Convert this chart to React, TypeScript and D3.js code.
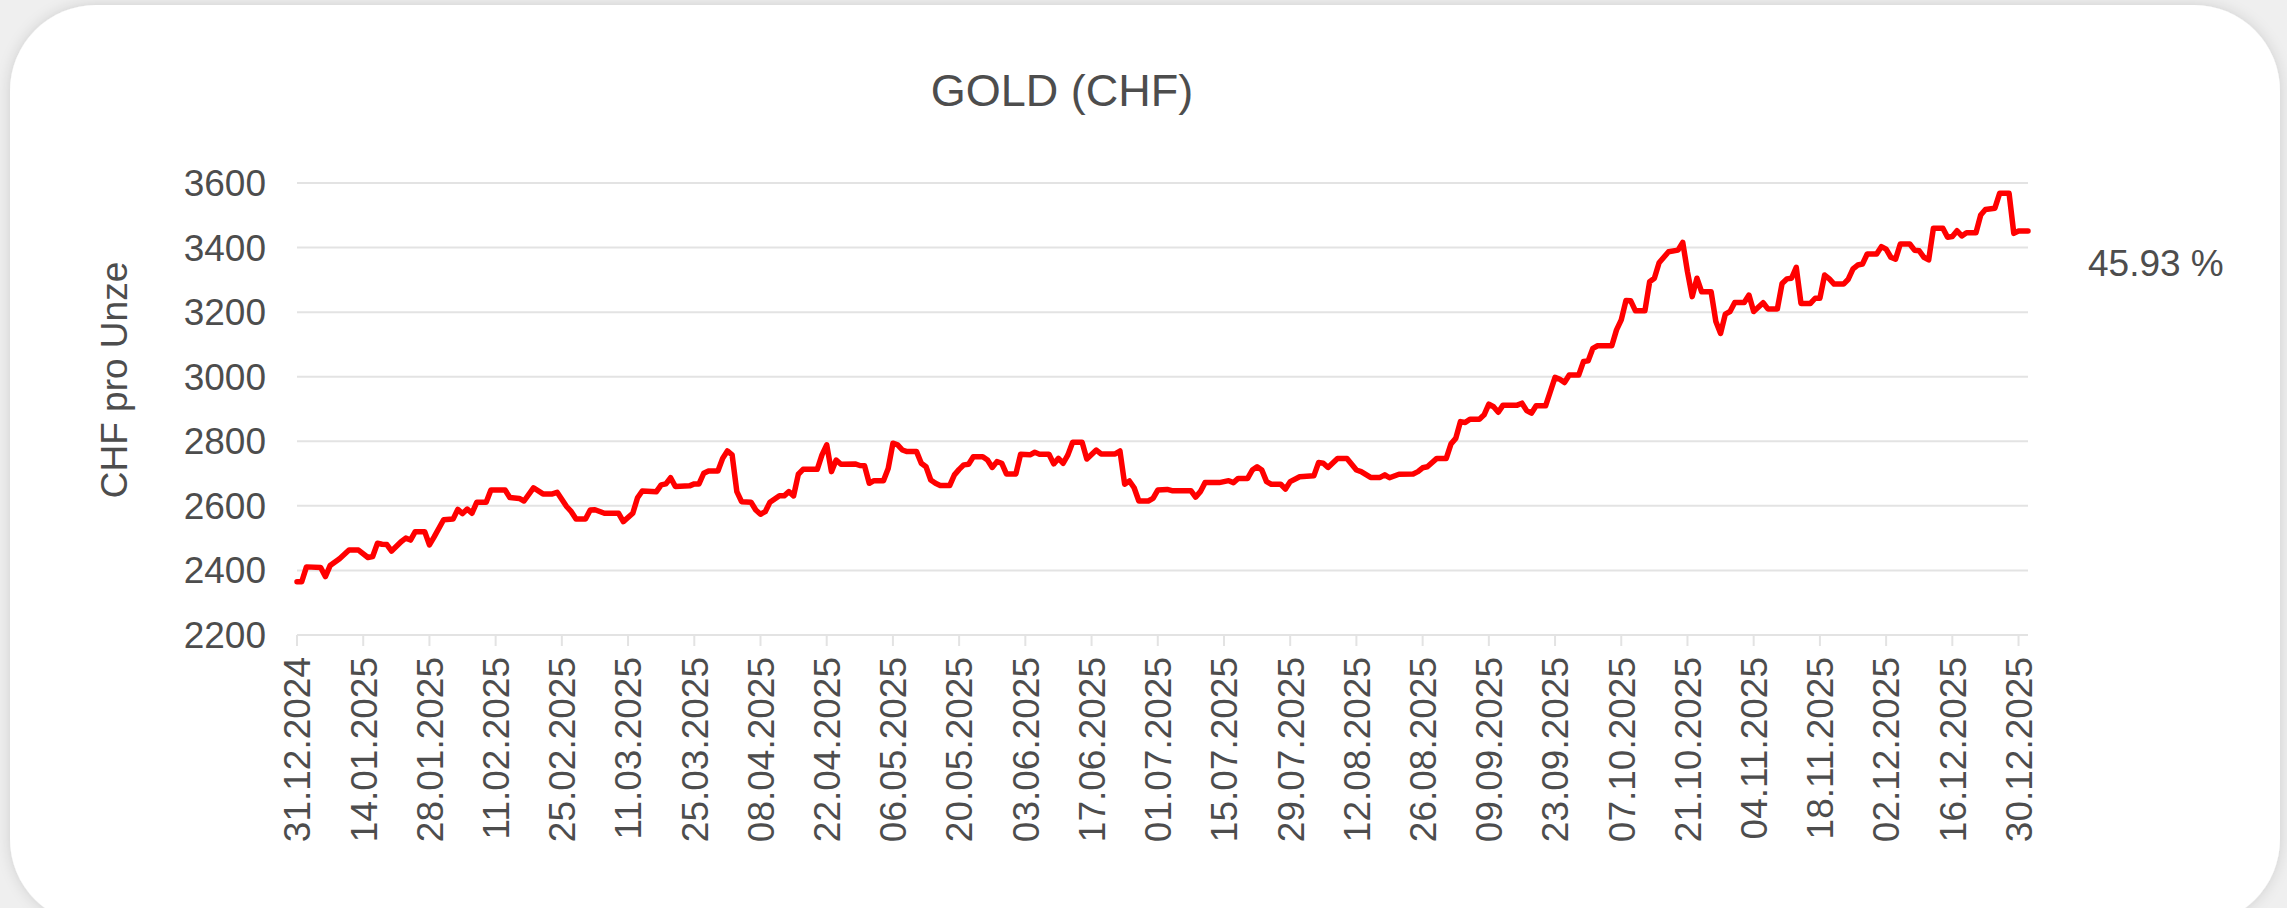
import React from "react";
import * as d3 from "d3";

const title = "GOLD (CHF)";
const yAxisTitle = "CHF pro Unze";
const changeLabel = "45.93 %";

const yTicks = [2200, 2400, 2600, 2800, 3000, 3200, 3400, 3600];

const tickLabels = [
  "31.12.2024", "14.01.2025", "28.01.2025", "11.02.2025", "25.02.2025", "11.03.2025",
  "25.03.2025", "08.04.2025", "22.04.2025", "06.05.2025", "20.05.2025", "03.06.2025",
  "17.06.2025", "01.07.2025", "15.07.2025", "29.07.2025", "12.08.2025", "26.08.2025",
  "09.09.2025", "23.09.2025", "07.10.2025", "21.10.2025", "04.11.2025", "18.11.2025",
  "02.12.2025", "16.12.2025", "30.12.2025",
];

// turning points of the line (date -> CHF per ounce)
const dates = [
  "31.12.2024",
  "01.01.2025", "02.01.2025", "05.01.2025", "06.01.2025", "07.01.2025", "09.01.2025", "11.01.2025", "13.01.2025",
  "15.01.2025", "16.01.2025", "17.01.2025", "18.01.2025", "19.01.2025", "20.01.2025", "22.01.2025", "23.01.2025",
  "24.01.2025", "25.01.2025", "27.01.2025", "28.01.2025", "29.01.2025", "31.01.2025",
  "02.02.2025", "03.02.2025", "04.02.2025", "05.02.2025", "06.02.2025", "07.02.2025", "09.02.2025", "10.02.2025",
  "13.02.2025", "14.02.2025", "16.02.2025", "17.02.2025", "19.02.2025", "21.02.2025", "23.02.2025", "24.02.2025",
  "26.02.2025", "27.02.2025", "28.02.2025",
  "02.03.2025", "03.03.2025", "04.03.2025", "06.03.2025", "09.03.2025", "10.03.2025", "12.03.2025", "13.03.2025",
  "14.03.2025", "17.03.2025", "18.03.2025", "19.03.2025", "20.03.2025", "21.03.2025", "24.03.2025", "25.03.2025",
  "26.03.2025", "27.03.2025", "28.03.2025", "30.03.2025", "31.03.2025",
  "01.04.2025", "02.04.2025", "03.04.2025", "04.04.2025", "06.04.2025", "07.04.2025", "08.04.2025", "09.04.2025",
  "10.04.2025", "12.04.2025", "13.04.2025", "14.04.2025", "15.04.2025", "16.04.2025", "17.04.2025", "20.04.2025",
  "21.04.2025", "22.04.2025", "23.04.2025", "24.04.2025", "25.04.2025", "28.04.2025", "29.04.2025", "30.04.2025",
  "01.05.2025", "02.05.2025", "04.05.2025", "05.05.2025", "06.05.2025", "07.05.2025", "08.05.2025", "09.05.2025",
  "11.05.2025", "12.05.2025", "13.05.2025", "14.05.2025", "15.05.2025", "16.05.2025", "18.05.2025", "19.05.2025",
  "20.05.2025", "21.05.2025", "22.05.2025", "23.05.2025", "25.05.2025", "26.05.2025", "27.05.2025", "28.05.2025",
  "29.05.2025", "30.05.2025",
  "01.06.2025", "02.06.2025", "04.06.2025", "05.06.2025", "06.06.2025", "08.06.2025", "09.06.2025", "10.06.2025",
  "11.06.2025", "12.06.2025", "13.06.2025", "15.06.2025", "16.06.2025", "18.06.2025", "19.06.2025", "22.06.2025",
  "23.06.2025", "24.06.2025", "25.06.2025", "26.06.2025", "27.06.2025", "29.06.2025", "30.06.2025",
  "01.07.2025", "03.07.2025", "04.07.2025", "08.07.2025", "09.07.2025", "10.07.2025", "11.07.2025", "14.07.2025",
  "16.07.2025", "17.07.2025", "18.07.2025", "20.07.2025", "21.07.2025", "22.07.2025", "23.07.2025", "24.07.2025",
  "25.07.2025", "27.07.2025", "28.07.2025", "29.07.2025", "31.07.2025",
  "03.08.2025", "04.08.2025", "05.08.2025", "06.08.2025", "08.08.2025", "10.08.2025", "12.08.2025", "13.08.2025",
  "15.08.2025", "17.08.2025", "18.08.2025", "19.08.2025", "21.08.2025", "24.08.2025", "25.08.2025", "26.08.2025",
  "27.08.2025", "29.08.2025", "31.08.2025",
  "01.09.2025", "02.09.2025", "03.09.2025", "04.09.2025", "05.09.2025", "07.09.2025", "08.09.2025", "09.09.2025",
  "10.09.2025", "11.09.2025", "12.09.2025", "15.09.2025", "16.09.2025", "17.09.2025", "18.09.2025", "19.09.2025",
  "21.09.2025", "22.09.2025", "23.09.2025", "24.09.2025", "25.09.2025", "26.09.2025", "28.09.2025", "29.09.2025",
  "30.09.2025",
  "01.10.2025", "02.10.2025", "05.10.2025", "06.10.2025", "07.10.2025", "08.10.2025", "09.10.2025", "10.10.2025",
  "12.10.2025", "13.10.2025", "14.10.2025", "15.10.2025", "17.10.2025", "19.10.2025", "20.10.2025", "21.10.2025",
  "22.10.2025", "23.10.2025", "24.10.2025", "26.10.2025", "27.10.2025", "28.10.2025", "29.10.2025", "30.10.2025",
  "31.10.2025",
  "02.11.2025", "03.11.2025", "04.11.2025", "06.11.2025", "07.11.2025", "09.11.2025", "10.11.2025", "11.11.2025",
  "12.11.2025", "13.11.2025", "14.11.2025", "16.11.2025", "17.11.2025", "18.11.2025", "19.11.2025", "20.11.2025",
  "21.11.2025", "23.11.2025", "24.11.2025", "25.11.2025", "26.11.2025", "27.11.2025", "28.11.2025", "30.11.2025",
  "01.12.2025", "02.12.2025", "03.12.2025", "04.12.2025", "05.12.2025", "07.12.2025", "08.12.2025", "09.12.2025",
  "10.12.2025", "11.12.2025", "12.12.2025", "14.12.2025", "15.12.2025", "16.12.2025", "17.12.2025", "18.12.2025",
  "19.12.2025", "21.12.2025", "22.12.2025", "23.12.2025", "25.12.2025", "26.12.2025", "28.12.2025", "29.12.2025",
  "30.12.2025", "01.01.2026",
];

const prices = [
  2365,
  2365, 2411, 2409, 2381, 2415, 2436, 2463, 2463,
  2440, 2443, 2484, 2481, 2480, 2460, 2489, 2500,
  2494, 2520, 2520, 2479, 2504, 2557,
  2559, 2589, 2576, 2590, 2577, 2611, 2611, 2649,
  2649, 2626, 2623, 2615, 2656, 2637, 2637, 2642,
  2598, 2582, 2559,
  2559, 2587, 2588, 2577, 2577, 2551, 2577, 2625,
  2646, 2644, 2665, 2668, 2687, 2660, 2662, 2668,
  2668, 2701, 2708, 2708, 2747,
  2770, 2758, 2644, 2613, 2611, 2587, 2574, 2582,
  2611, 2631, 2631, 2644, 2631, 2698, 2713, 2713,
  2758, 2789, 2706, 2742, 2729, 2730, 2725, 2724,
  2670, 2678, 2678, 2716, 2794, 2789, 2773, 2768,
  2768, 2732, 2721, 2680, 2670, 2663, 2663, 2696,
  2713, 2727, 2729, 2752, 2752, 2742, 2719, 2737,
  2732, 2699,
  2699, 2760, 2758, 2766, 2760, 2760, 2730, 2747,
  2732, 2758, 2797, 2797, 2745, 2773, 2761, 2761,
  2770, 2667, 2677, 2656, 2615, 2615, 2623,
  2649, 2651, 2647, 2647, 2627, 2644, 2672, 2672,
  2678, 2672, 2685, 2685, 2711, 2721, 2711, 2675,
  2667, 2667, 2652, 2675, 2690,
  2693, 2734, 2732, 2719, 2747, 2747, 2711, 2706,
  2688, 2688, 2696, 2687, 2698, 2699, 2706, 2718,
  2721, 2747, 2747,
  2792, 2809, 2861, 2858, 2868, 2868, 2882, 2915,
  2907, 2890, 2912, 2912, 2918, 2895, 2887, 2910,
  2910, 2954, 2998, 2992, 2982, 3005, 3005, 3047,
  3049,
  3088, 3096, 3096, 3145, 3176, 3236, 3235, 3204,
  3204, 3294, 3305, 3353, 3387, 3392, 3416, 3325,
  3248, 3305, 3263, 3263, 3171, 3134, 3194, 3202,
  3230,
  3230, 3253, 3202, 3229, 3210, 3210, 3289, 3303,
  3305, 3339, 3227, 3227, 3243, 3243, 3315, 3303,
  3287, 3287, 3302, 3334, 3346, 3349, 3380, 3380,
  3403, 3395, 3370, 3364, 3411, 3411, 3392, 3390,
  3370, 3362, 3460, 3460, 3432, 3434, 3452, 3436,
  3446, 3446, 3501, 3518, 3522, 3568, 3568, 3444,
  3451, 3451,
];

const W = 2287;
const H = 908;
const FONT = "'Liberation Sans', Arial, Helvetica, sans-serif";
const TEXT = "#4d4d4d";
const GRID = "#e3e3e3";

const plot = { left: 297, right: 2028, top: 183, bottom: 635 };

const parse = d3.utcParse("%d.%m.%Y");

export default function App() {
  const x = d3
    .scaleUtc()
    .domain([parse(dates[0]) as Date, parse(dates[dates.length - 1]) as Date])
    .range([plot.left, plot.right]);
  const y = d3.scaleLinear().domain([2200, 3600]).range([plot.bottom, plot.top]);

  const points: [Date, number][] = dates.map((d, i) => [parse(d) as Date, prices[i]]);
  const line = d3
    .line<[Date, number]>()
    .x((d) => x(d[0]))
    .y((d) => y(d[1]));

  return (
    <div style={{ position: "absolute", left: 0, top: 0 }}>
      <svg width={W} height={H} style={{ display: "block" }}>
        <defs>
          <filter id="cardShadow" x="-5%" y="-5%" width="110%" height="115%">
            <feDropShadow dx="0" dy="0" stdDeviation="7" floodColor="#000" floodOpacity="0.14" />
          </filter>
        </defs>
        <rect x={0} y={0} width={W} height={H} fill="#efefef" />
        <rect x={10} y={5} width={2270} height={920} rx={86} ry={86} fill="#fff" filter="url(#cardShadow)" />

        <text x={1062} y={106} textAnchor="middle" fontFamily={FONT} fontSize={45} fill={TEXT}>
          {title}
        </text>

        {/* horizontal grid + y tick labels */}
        {yTicks.map((t) => (
          <g key={t}>
            <line x1={plot.left} x2={plot.right} y1={y(t)} y2={y(t)} stroke={GRID} strokeWidth={2} />
            <text
              x={266}
              y={y(t)}
              dy="0.35em"
              textAnchor="end"
              fontFamily={FONT}
              fontSize={37}
              fill={TEXT}
            >
              {t}
            </text>
          </g>
        ))}

        {/* x ticks + rotated labels */}
        {tickLabels.map((l) => {
          const tx = x(parse(l) as Date);
          return (
            <g key={l}>
              <line x1={tx} x2={tx} y1={plot.bottom} y2={plot.bottom + 11} stroke={GRID} strokeWidth={2} />
              <text
                transform={`translate(${tx},${plot.bottom + 22}) rotate(-90)`}
                dy="0.36em"
                textAnchor="end"
                fontFamily={FONT}
                fontSize={37}
                fill={TEXT}
              >
                {l}
              </text>
            </g>
          );
        })}

        <text
          transform={`translate(114,380) rotate(-90)`}
          dy="0.36em"
          textAnchor="middle"
          fontFamily={FONT}
          fontSize={37}
          fill={TEXT}
        >
          {yAxisTitle}
        </text>

        <path
          d={line(points) ?? ""}
          fill="none"
          stroke="#ff0000"
          strokeWidth={5.5}
          strokeLinejoin="round"
          strokeLinecap="round"
        />

        <text x={2088} y={276} fontFamily={FONT} fontSize={37} fill={TEXT}>
          {changeLabel}
        </text>
      </svg>
    </div>
  );
}
